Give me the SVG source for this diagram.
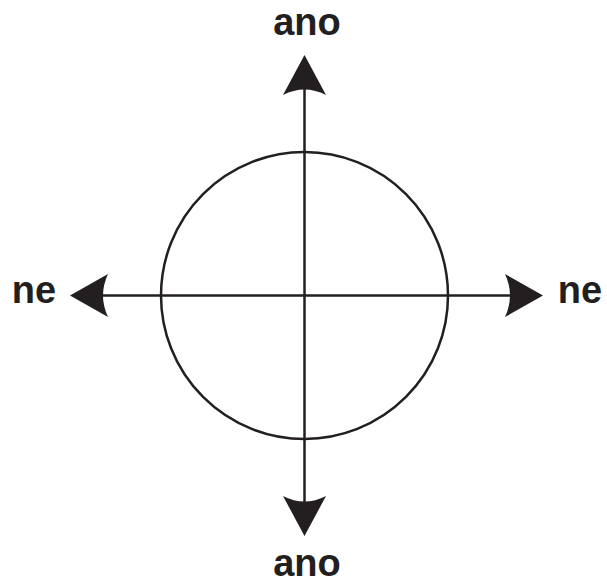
<svg xmlns="http://www.w3.org/2000/svg" width="607" height="585" viewBox="0 0 607 585">
<style>
.l{stroke:#231f20;stroke-width:2.5;fill:none}
.h{fill:#231f20}
.t{font-family:"Liberation Sans",Arial,sans-serif;font-weight:bold;font-size:38px;fill:#231f20;text-anchor:middle}
</style>
<rect width="607" height="585" fill="#fff"/>
<g id="circle"><circle class="l" cx="304.5" cy="295.5" r="143.5"/></g>
<g id="connectors">
<line class="l" x1="304.5" y1="88" x2="304.5" y2="503"/>
<line class="l" x1="100" y1="295.5" x2="512" y2="295.5"/>
<path class="h" d="M304.5,55 L326,95 Q304.5,84 283,95 Z"/>
<path class="h" d="M304.5,536 L326,496 Q304.5,507 283,496 Z"/>
<path class="h" d="M70,295.5 L108,274 Q98,295.5 108,317 Z"/>
<path class="h" d="M543,295.5 L505,274 Q515,295.5 505,317 Z"/>
</g>
<g id="label-top"><text class="t" x="307" y="35">ano</text></g>
<g id="label-bottom"><text class="t" x="307" y="576">ano</text></g>
<g id="label-left"><text class="t" x="34" y="303">ne</text></g>
<g id="label-right"><text class="t" x="580" y="303">ne</text></g>
</svg>
